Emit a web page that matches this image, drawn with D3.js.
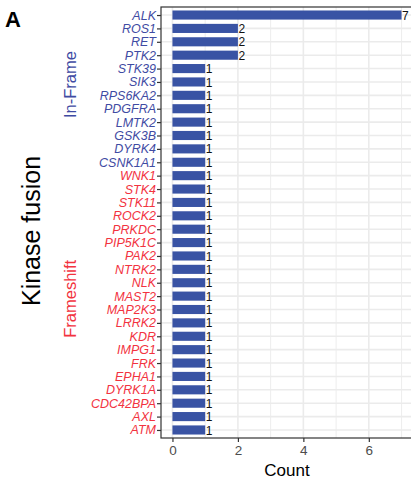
<!DOCTYPE html>
<html>
<head>
<meta charset="utf-8">
<script src="https://cdn.jsdelivr.net/npm/d3@7"></script>
<style>
  body { margin: 0; background: #fff; }
  svg { display: block; font-family: "Liberation Sans", Arial, sans-serif; }
</style>
</head>
<body>
<div id="app"></div>
<script>
// ----- Data -----
const genes = ["ALK", "ROS1", "RET", "PTK2", "STK39", "SIK3", "RPS6KA2", "PDGFRA",
    "LMTK2", "GSK3B", "DYRK4", "CSNK1A1", "WNK1", "STK4", "STK11", "ROCK2", "PRKDC",
    "PIP5K1C", "PAK2", "NTRK2", "NLK", "MAST2", "MAP2K3", "LRRK2", "KDR", "IMPG1",
    "FRK", "EPHA1", "DYRK1A", "CDC42BPA", "AXL", "ATM"];
const counts = [7, 2, 2, 2, 1, 1, 1, 1, 1, 1, 1, 1, 1, 1, 1, 1, 1,
    1, 1, 1, 1, 1, 1, 1, 1, 1, 1, 1, 1, 1, 1, 1];
const fusionType = ["In-Frame", "In-Frame", "In-Frame", "In-Frame", "In-Frame", "In-Frame",
    "In-Frame", "In-Frame", "In-Frame", "In-Frame", "In-Frame", "In-Frame",
    "Frameshift", "Frameshift", "Frameshift", "Frameshift", "Frameshift", "Frameshift",
    "Frameshift", "Frameshift", "Frameshift", "Frameshift", "Frameshift", "Frameshift",
    "Frameshift", "Frameshift", "Frameshift", "Frameshift", "Frameshift", "Frameshift",
    "Frameshift", "Frameshift"];
const groups = ["In-Frame", "Frameshift"];
const xTicks = [0, 2, 4, 6];
const xMinor = [1, 3, 5, 7];

const data = genes.map((g, i) => ({ gene: g, count: counts[i], type: fusionType[i] }));

// ----- Layout -----
const W = 411, H = 481;
const panel = { left: 161, right: 413, top: 7, bottom: 438 };
const barColor = "#3953a4";
const typeColor = { "In-Frame": "#3f4ba3", "Frameshift": "#f2333f" };
const gridColor = "#ebebeb";

const svg = d3.select("#app").append("svg")
    .attr("width", W)
    .attr("height", H);

// scales (ggplot-like expansion)
const xScale = d3.scaleLinear()
    .domain([-0.35, 7.35])
    .range([panel.left, panel.right]);

const yScale = d3.scalePoint()
    .domain(genes)
    .range([panel.top, panel.bottom])
    .padding(0.6);

const barH = yScale.step() * 0.68;

// grid
const grid = svg.append("g");
grid.selectAll("line.minor")
    .data(xMinor)
    .enter().append("line")
        .attr("x1", d => xScale(d)).attr("x2", d => xScale(d))
        .attr("y1", panel.top).attr("y2", panel.bottom)
        .attr("stroke", gridColor).attr("stroke-width", 0.9);
grid.selectAll("line.major")
    .data(xTicks)
    .enter().append("line")
        .attr("x1", d => xScale(d)).attr("x2", d => xScale(d))
        .attr("y1", panel.top).attr("y2", panel.bottom)
        .attr("stroke", gridColor).attr("stroke-width", 1.6);
grid.selectAll("line.hz")
    .data(genes)
    .enter().append("line")
        .attr("x1", panel.left).attr("x2", panel.right)
        .attr("y1", d => yScale(d)).attr("y2", d => yScale(d))
        .attr("stroke", gridColor).attr("stroke-width", 1.6);

// bars
svg.selectAll("rect.bar")
    .data(data)
    .enter().append("rect")
        .attr("class", "bar")
        .attr("x", xScale(0))
        .attr("y", d => yScale(d.gene) - barH / 2)
        .attr("width", d => xScale(d.count) - xScale(0))
        .attr("height", barH)
        .attr("fill", barColor);

// value labels
svg.selectAll("text.val")
    .data(data)
    .enter().append("text")
        .attr("x", d => xScale(d.count) + 0.5)
        .attr("y", d => yScale(d.gene))
        .attr("dy", "0.38em")
        .attr("font-size", 12)
        .attr("fill", "#111")
        .text(d => d.count);

// panel border
svg.append("rect")
    .attr("x", panel.left).attr("y", panel.top)
    .attr("width", panel.right - panel.left)
    .attr("height", panel.bottom - panel.top)
    .attr("fill", "none")
    .attr("stroke", "#333")
    .attr("stroke-width", 1.2);

// axes
const axisLeft = d3.axisLeft(yScale).tickSize(4).tickPadding(1);
const yAxis = svg.append("g")
    .attr("transform", `translate(${panel.left}, 0)`)
    .call(axisLeft);
yAxis.select(".domain").remove();
yAxis.selectAll(".tick line").attr("stroke", "#333").attr("stroke-width", 1.2);
yAxis.selectAll(".tick text")
    .attr("font-size", 12.5)
    .attr("font-style", "italic")
    .attr("font-family", "Liberation Sans, Arial, sans-serif")
    .attr("fill", (d, i) => typeColor[fusionType[i]]);

const axisBottom = d3.axisBottom(xScale).tickValues(xTicks).tickSize(4).tickPadding(3);
const xAxis = svg.append("g")
    .attr("transform", `translate(0, ${panel.bottom})`)
    .call(axisBottom);
xAxis.select(".domain").remove();
xAxis.selectAll(".tick line").attr("stroke", "#333").attr("stroke-width", 1.2);
xAxis.selectAll(".tick text")
    .attr("font-size", 13.5)
    .attr("font-family", "Liberation Sans, Arial, sans-serif")
    .attr("fill", "#4d4d4d");

// group labels
groups.forEach(g => {
    const members = genes.filter((d, i) => fusionType[i] === g);
    const yMid = (yScale(members[0]) + yScale(members[members.length - 1])) / 2 - 4;
    svg.append("text")
        .attr("transform", `translate(76, ${yMid}) rotate(-90)`)
        .attr("text-anchor", "middle")
        .attr("font-size", 16.5)
        .attr("fill", typeColor[g])
        .text(g);
});

// axis titles
svg.append("text")
    .attr("transform", `translate(40, 231) rotate(-90)`)
    .attr("text-anchor", "middle")
    .attr("font-size", 25)
    .attr("fill", "#000")
    .text("Kinase fusion");

svg.append("text")
    .attr("x", (xScale(-0.35) + xScale(7.35)) / 2)
    .attr("y", 476)
    .attr("text-anchor", "middle")
    .attr("font-size", 17)
    .attr("fill", "#000")
    .text("Count");

// panel tag
svg.append("text")
    .attr("x", 5)
    .attr("y", 27)
    .attr("font-size", 22)
    .attr("font-weight", "bold")
    .attr("fill", "#000")
    .text("A");
</script>
</body>
</html>
